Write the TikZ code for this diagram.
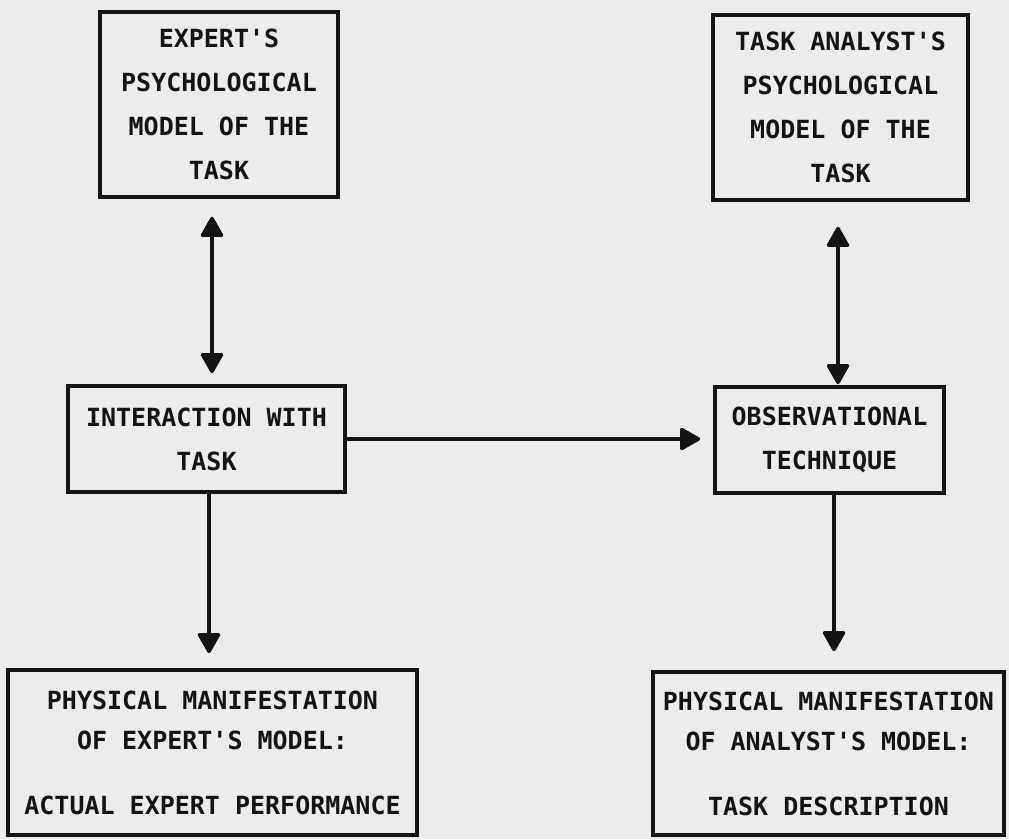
\documentclass[tikz,border=0pt]{standalone}
\usepackage{fontspec}
\setmonofont{DejaVu Sans Mono}
\usepackage{tikz}
\usetikzlibrary{arrows.meta}
\definecolor{paper}{RGB}{236,236,234}
\definecolor{ink}{RGB}{20,20,20}

\begin{document}
\begin{tikzpicture}[x=1pt,y=1pt,
  box/.style={draw=ink, line width=3.6pt, inner sep=0pt, align=center,
    font=\ttfamily\bfseries\fontsize{25}{44}\selectfont, text=ink},
  arr/.style={draw=ink, line width=3.4pt, -{Triangle[width=24pt,length=22pt,round]}},
  twoway/.style={draw=ink, line width=3.4pt, {Triangle[width=24pt,length=22pt,round]}-{Triangle[width=24pt,length=22pt,round]}}]
\fill[paper] (0,0) rectangle (1009,-839);
\useasboundingbox (0,0) rectangle (1009,-839);

% the two mental models
\node[box, minimum width=238, minimum height=185] (expert) at (219,-104.5)
  {EXPERT'S\\PSYCHOLOGICAL\\MODEL OF THE\\TASK};
\node[box, minimum width=255, minimum height=185] (analyst) at (840.5,-107.5)
  {TASK ANALYST'S\\PSYCHOLOGICAL\\MODEL OF THE\\TASK};

% middle row
\node[box, minimum width=277, minimum height=106] (inter) at (206.5,-439)
  {INTERACTION WITH\\TASK};
\node[box, minimum width=229, minimum height=106] (obs) at (829.5,-440)
  {OBSERVATIONAL\\TECHNIQUE};

% what comes out of each model
\node[box, minimum width=409, minimum height=165] (physexp) at (212.5,-752.5)
  {PHYSICAL MANIFESTATION\\[-4pt]OF EXPERT'S MODEL:\\[21pt]ACTUAL EXPERT PERFORMANCE};
\node[box, minimum width=351, minimum height=163] (physana) at (828.5,-753.5)
  {PHYSICAL MANIFESTATION\\[-4pt]OF ANALYST'S MODEL:\\[21pt]TASK DESCRIPTION};

% connectors
\draw[twoway, shorten <=18pt, shorten >=11pt] ([xshift=-7]expert.south) -- ([xshift=5.5]inter.north);
\draw[twoway, shorten <=25pt, shorten >=1pt] ([xshift=-2.5]analyst.south) -- ([xshift=8.5]obs.north);
\draw[arr, shorten >=13pt] (inter.east) -- (obs.west |- inter.east);
\draw[arr, shorten >=15pt] ([xshift=2.5]inter.south) -- ([xshift=-3.5]physexp.north);
\draw[arr, shorten >=19pt] ([xshift=4.5]obs.south) -- ([xshift=5.5]physana.north);
\end{tikzpicture}
\end{document}
